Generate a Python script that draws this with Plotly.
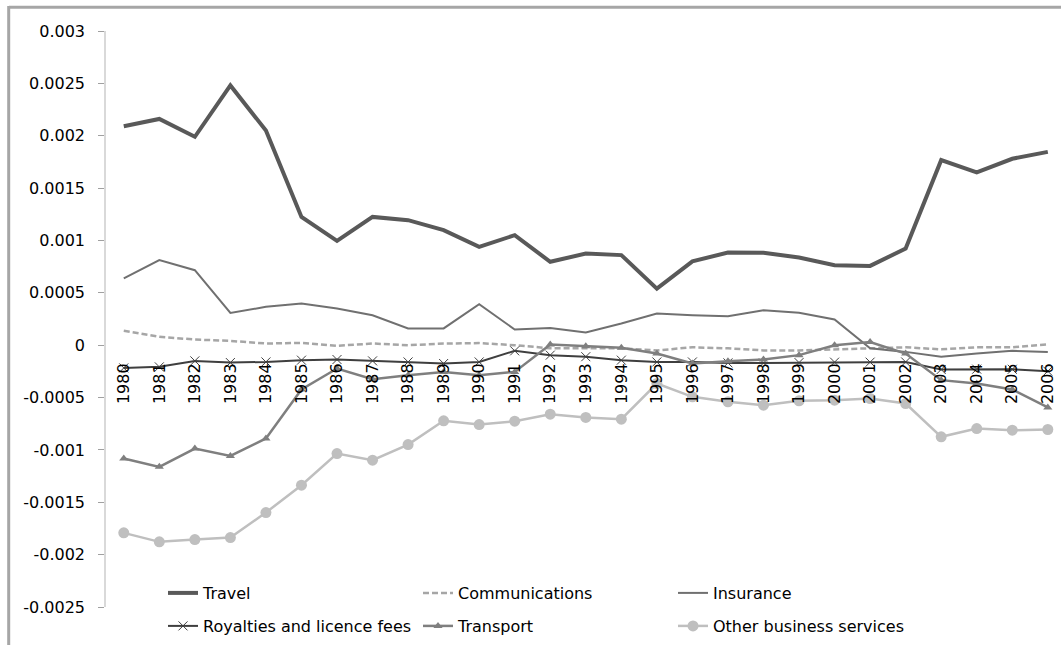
import plotly.graph_objects as go

years = list(range(1980, 2007))
year_labels = [str(y) for y in years]

travel = [0.00209, 0.00216, 0.00199, 0.00248, 0.00205, 0.001225, 0.000996, 0.001225, 0.001194, 0.001098,
          0.000939, 0.00105, 0.000796, 0.000875, 0.00086, 0.00054, 0.0008, 0.000885, 0.000882, 0.000837,
          0.000764, 0.000757, 0.000923, 0.001767, 0.00165, 0.00178, 0.001846]
communications = [0.000137, 0.00008, 0.000054, 0.000041, 0.000016, 0.000022, -0.000006, 0.000016, 0.0, 0.000015,
                  0.00002, 0.0, -0.00003, -0.00003, -0.00003, -0.00005, -0.00002, -0.00003, -0.00005, -0.00005,
                  -0.00004, -0.000026, -0.00002, -0.00004, -0.00002, -0.00002, 0.000007]
insurance = [0.000637, 0.000812, 0.000716, 0.000308, 0.000366, 0.000398, 0.00035, 0.000286, 0.00016, 0.00016,
             0.000392, 0.00015, 0.000165, 0.000121, 0.000207, 0.000302, 0.000286, 0.000277, 0.000334, 0.000309,
             0.000245, -0.00003, -0.000064, -0.000111, -0.00008, -0.000054, -0.000064]
royalties = [-0.000217, -0.000207, -0.00015, -0.000166, -0.00016, -0.000143, -0.000137, -0.00015, -0.00016, -0.000175,
             -0.00016, -0.000054, -0.000095, -0.00011, -0.000143, -0.00016, -0.00016, -0.000169, -0.00017, -0.000166,
             -0.000162, -0.000162, -0.00016, -0.000232, -0.000229, -0.00023, -0.000248]
transport = [-0.001082, -0.001162, -0.000987, -0.001057, -0.000891, -0.000423, -0.000223, -0.000325, -0.000287, -0.000255,
             -0.000287, -0.000255, 0.000006, -0.00001, -0.000025, -0.00008, -0.000175, -0.000153, -0.000137, -0.000095,
             0.0, 0.00003, -0.00008, -0.000334, -0.000366, -0.000423, -0.000595]
other_business = [-0.001792, -0.001878, -0.001856, -0.001837, -0.001598, -0.001337, -0.001035, -0.001098, -0.000949, -0.000722,
                  -0.000758, -0.000726, -0.000659, -0.00069, -0.000707, -0.000366, -0.000493, -0.000541, -0.000573, -0.000531,
                  -0.000525, -0.000509, -0.000557, -0.000875, -0.000796, -0.000812, -0.000805]

y_tickvals = [0.003, 0.0025, 0.002, 0.0015, 0.001, 0.0005, 0, -0.0005, -0.001, -0.0015, -0.002, -0.0025]
y_ticktext = ["0.003", "0.0025", "0.002", "0.0015", "0.001", "0.0005", "0", "-0.0005", "-0.001", "-0.0015", "-0.002", "-0.0025"]

FONT = "DejaVu Sans"
W, H = 1061, 645
L, R, T, B = 106, 0, 31, 38
YMIN, YMAX = -0.0025, 0.003

fig = go.Figure()
fig.add_trace(go.Scatter(x=years, y=travel, name="Travel", mode="lines",
                         line=dict(color="#595959", width=4), legend="legend"))
fig.add_trace(go.Scatter(x=years, y=communications, name="Communications", mode="lines",
                         line=dict(color="#a6a6a6", width=2.5, dash="6px,3px"), legend="legend"))
fig.add_trace(go.Scatter(x=years, y=insurance, name="Insurance", mode="lines",
                         line=dict(color="#707070", width=2), legend="legend"))
fig.add_trace(go.Scatter(x=years, y=royalties, name="Royalties and licence fees", mode="lines+markers",
                         line=dict(color="#3f3f3f", width=2),
                         marker=dict(symbol="x-thin-open", size=9, line=dict(color="#a8a8a8", width=1)),
                         legend="legend2"))
fig.add_trace(go.Scatter(x=years, y=transport, name="Transport", mode="lines+markers",
                         line=dict(color="#7f7f7f", width=2.5),
                         marker=dict(symbol="triangle-up", size=8, color="#7f7f7f"),
                         legend="legend2"))
fig.add_trace(go.Scatter(x=years, y=other_business, name="Other business services", mode="lines+markers",
                         line=dict(color="#bfbfbf", width=2.5),
                         marker=dict(symbol="circle", size=11, color="#bfbfbf"),
                         legend="legend2"))

plot_w = W - L - R
plot_h = H - T - B
px_per_cat = 35.54
x_hi = 1979.5 + plot_w / px_per_cat
zero_pos = (0 - YMIN) / (YMAX - YMIN)

def px2x(px):
    return (px - L) / plot_w

def py2y(py):
    return (H - B - py) / plot_h

legend_common = dict(orientation="h", entrywidth=210, entrywidthmode="pixels",
                     font=dict(family=FONT, size=16, color="#000000"),
                     bgcolor="rgba(0,0,0,0)", borderwidth=0, xanchor="left", yanchor="middle",
                     itemwidth=30, tracegroupgap=0)

fig.update_layout(
    width=W, height=H,
    margin=dict(l=L, r=R, t=T, b=B, pad=0),
    paper_bgcolor="white", plot_bgcolor="white",
    font=dict(family=FONT, size=16, color="#000000"),
    showlegend=True,
    legend=dict(x=px2x(163), y=py2y(593), **legend_common),
    legend2=dict(x=px2x(163), y=py2y(626), **legend_common),
    xaxis=dict(range=[1979.5, x_hi], anchor="free", position=zero_pos,
               tickmode="array", tickvals=years, ticktext=year_labels,
               tickangle=-90, showline=False, showgrid=False, zeroline=False,
               ticks="", ticklabelstandoff=14,
               tickfont=dict(family=FONT, size=16, color="#000000")),
    yaxis=dict(range=[YMIN, YMAX], tickmode="array", tickvals=y_tickvals, ticktext=y_ticktext,
               showline=True, linecolor="#d9d9d9", linewidth=1.5,
               ticks="outside", ticklen=6, tickcolor="#a0a0a0", tickwidth=1,
               showgrid=False, zeroline=False, ticklabelstandoff=10,
               tickfont=dict(family=FONT, size=16, color="#000000")),
    shapes=[
        dict(type="line", xref="paper", yref="paper", x0=px2x(9), x1=px2x(1061), y0=py2y(7.3), y1=py2y(7.3),
             line=dict(color="#a6a6a6", width=3)),
        dict(type="line", xref="paper", yref="paper", x0=px2x(8.7), x1=px2x(8.7), y0=py2y(6), y1=py2y(645),
             line=dict(color="#a6a6a6", width=3)),
    ],
)

fig.write_html("out.html")
